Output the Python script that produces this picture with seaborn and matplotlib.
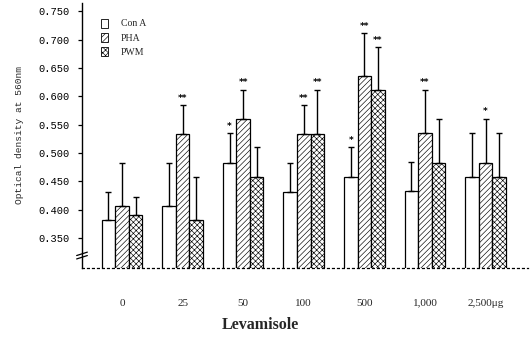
import matplotlib
matplotlib.use("Agg")
import matplotlib.pyplot as plt
import matplotlib.transforms as mtransforms
from matplotlib.patches import Patch
import seaborn as sns
import pandas as pd

# ---- data ----
doses = ["0", "25", "50", "100", "500", "1,000", "2,500\u03bcg"]
mitogens = ["Con A", "PHA", "PWM"]
con_a = [0.382, 0.407, 0.483, 0.432, 0.458, 0.433, 0.458]
pha = [0.407, 0.534, 0.560, 0.534, 0.636, 0.535, 0.483]
pwm = [0.391, 0.382, 0.458, 0.534, 0.612, 0.483, 0.457]
con_a_sd = [0.050, 0.076, 0.052, 0.051, 0.052, 0.051, 0.077]
pha_sd = [0.076, 0.051, 0.052, 0.051, 0.076, 0.077, 0.078]
pwm_sd = [0.032, 0.076, 0.053, 0.078, 0.075, 0.077, 0.078]
con_a_sig = ["", "", "*", "", "*", "", ""]
pha_sig = ["", "**", "**", "**", "**", "**", "*"]
pwm_sig = ["", "", "", "**", "**", "", ""]
yticks = [0.350, 0.400, 0.450, 0.500, 0.550, 0.600, 0.650, 0.700, 0.750]

means = {"Con A": con_a, "PHA": pha, "PWM": pwm}
sds = {"Con A": con_a_sd, "PHA": pha_sd, "PWM": pwm_sd}
sigs = {"Con A": con_a_sig, "PHA": pha_sig, "PWM": pwm_sig}

rows = []
for m in mitogens:
    for d, v in zip(doses, means[m]):
        rows.append({"dose": d, "mitogen": m, "od": v})
df = pd.DataFrame(rows)

sns.set_theme(style="white")
plt.rcParams["font.family"] = ["DejaVu Sans"]
plt.rcParams["hatch.linewidth"] = 0.45
plt.rcParams["hatch.color"] = "black"

fig = plt.figure(figsize=(5.3, 3.4), dpi=100)
ax = fig.add_axes([82 / 530, 1 - 268 / 340, (528 - 82) / 530, (268 - 3) / 340])

sns.barplot(data=df, x="dose", y="od", hue="mitogen", order=doses,
            hue_order=mitogens, palette=["white"] * 3, edgecolor="black",
            linewidth=0.9, width=0.67, errorbar=None, legend=False, ax=ax,
            saturation=1)

hatches = {"Con A": "", "PHA": "//////", "PWM": "xxxxxx"}
for cont, m in zip(ax.containers, mitogens):
    for j, bar in enumerate(cont):
        bar.set_hatch(hatches[m])
        x = bar.get_x() + bar.get_width() / 2
        top = bar.get_height()
        sd = sds[m][j]
        ax.errorbar(x, top, yerr=[[0], [sd]], fmt="none", ecolor="black",
                    elinewidth=1.0, capsize=2.5, capthick=1.0, zorder=3)
        if sigs[m][j]:
            ax.text(x, top + sd + 0.004, sigs[m][j], ha="center", va="bottom",
                    fontsize=6.5, fontweight="bold", color="black")

ax.set_ylim(0.297, 0.765)
ax.set_xlim(-0.66, 6.7)
ax.set_yticks(yticks)
ax.set_yticklabels([f"{t:.3f}" for t in yticks], family="Liberation Mono",
                   fontsize=7.5)
ax.tick_params(axis="y", direction="out", length=3, width=0.9, pad=6,
               left=True, colors="black")
ax.tick_params(axis="x", length=0, pad=22)
for lab in ax.get_xticklabels():
    lab.set_family("Liberation Serif")
    lab.set_fontsize(8)

ax.set_xlabel("")
ax.set_ylabel("Optical density at 560nm", family="Liberation Mono",
              fontsize=6.8, labelpad=10)

sns.despine(ax=ax, top=True, right=True)
ax.spines["left"].set_color("black")
ax.spines["left"].set_linewidth(1.0)
ax.spines["bottom"].set_color("black")
ax.spines["bottom"].set_linewidth(0.9)
ax.spines["bottom"].set_linestyle((0, (1.5, 2.5)))

# axis break marker on the y-axis
tr = mtransforms.blended_transform_factory(ax.transAxes, ax.transData)
for yb in (0.316, 0.322):
    ax.plot([-0.012, 0.012], [yb - 0.003, yb + 0.003], color="black",
            lw=0.9, transform=tr, clip_on=False)

handles = [Patch(facecolor="white", edgecolor="black", hatch=hatches[m],
                 linewidth=0.6) for m in mitogens]
leg = ax.legend(handles, mitogens, loc="upper left",
                bbox_to_anchor=(0.035, 0.955), frameon=False,
                prop={"family": "Liberation Serif", "size": 7},
                handlelength=0.7, handleheight=1.0, handletextpad=1.3,
                labelspacing=0.45, borderaxespad=0)

fig.text(260 / 530, 1 - 325 / 340, "Levamisole", ha="center", va="center",
         family="Liberation Serif", fontweight="bold", fontsize=11.5)

fig.savefig("out.png", dpi=100, facecolor="white")
